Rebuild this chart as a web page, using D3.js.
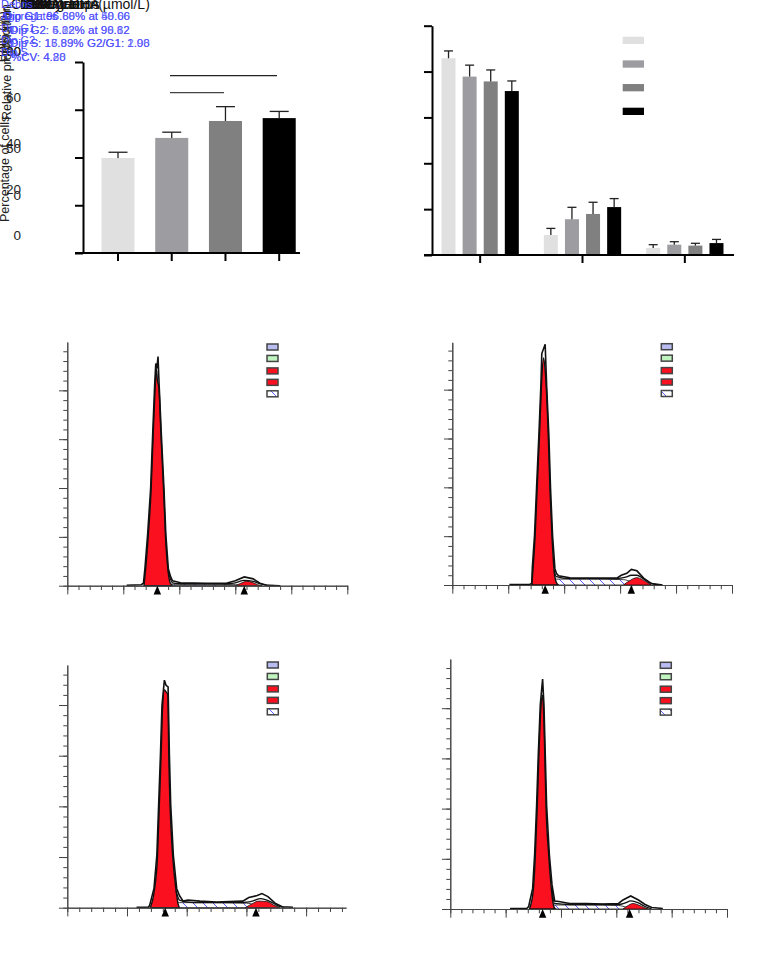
<!DOCTYPE html>
<html>
<head>
<meta charset="utf-8">
<script src="https://cdn.jsdelivr.net/npm/d3@7"></script>
<style>
  body { margin: 0; background: #fff; }
  svg { display: block; }
  text { font-family: "Liberation Sans", Arial, sans-serif; }
</style>
</head>
<body>
<div id="chart"></div>
<script>
// bar charts
const doses = ["0", "50", "100", "200"];
const prolif_mean = [39.8, 48.2, 55.3, 56.5];
const prolif_upper = [42.2, 50.6, 61.3, 59.3];
const prolif_ticks = [0, 20, 40, 60, 80];

const phases = ["G0/G1", "S", "G2/M"];
const phase_mean = [
  [85.8, 77.8, 75.7, 71.5],
  [8.7, 15.6, 17.9, 20.9],
  [3.1, 4.5, 4.1, 5.2]
];
const phase_upper = [
  [89, 82.8, 80.7, 75.9],
  [11.6, 20.8, 23, 24.6],
  [4.5, 5.8, 5.1, 6.8]
];
const phase_ticks = [0, 20, 40, 60, 80, 100];
const bar_colors = ["#e0e0e0", "#9d9da1", "#808080", "#000000"];

// flow histograms, [channel, count]
const p1_total = [[53,1],[66,2],[68,5],[69.3,35],[71.7,104],[74.4,199],[76.2,308],[78,411],[79,455],[80,445],[81,469],[82,411],[84,308],[86.3,199],[88,104],[90.2,35],[92.3,18],[94,10],[101,6],[124,5],[142,5],[150,10],[158,18],[166,14],[172,5],[178,1],[190,0]];
const p1_fit = [[90,30],[94,6],[101,4],[124,4],[142,4],[150,6],[158,11],[166,9],[172,4],[178,1],[186,0]];
const p1_g1 = [[68.5,0],[69.8,30],[72.2,100],[74.8,195],[76.6,305],[78.4,405],[79.5,445],[80.5,420],[81.8,405],[83.7,305],[86,195],[87.7,100],[90,30],[92,5],[94,0]];
const p1_g2 = [[150,0],[155,5],[160,9],[165,7],[170,2],[174,0]];
const p1_s = [[78,0],[85,3],[92,3],[124,3],[150,2],[160,0]];
const p1_peaks = [80.4, 158];

const p2_total = [[51,1],[69,1],[71,3],[71.5,34],[73.5,102],[75.3,198],[77.4,307],[79.2,410],[80,474],[83,493],[84.3,410],[86.3,307],[87.8,198],[89.6,102],[91.7,34],[93,24],[95,19],[105,15],[120,14],[147,14],[151,20],[156,24],[160,32],[165,29],[171,14],[178,3],[188,0]];
const p2_fit = [[91,30],[93,17],[105,13],[120,13],[147,13],[155,16],[160,20],[165,20],[170,14],[176,5],[185,0]];
const p2_g1 = [[71,0],[72.2,34],[74,100],[75.8,195],[77.9,305],[79.6,405],[81.5,465],[83,440],[84,405],[85.8,305],[87.3,195],[89.1,100],[91,30],[93,5],[95,0]];
const p2_g2 = [[153,0],[158,8],[165,15],[170,11],[175,4],[178,0]];
const p2_s = [[78,0],[85,7],[93,12],[120,12],[153,11],[160,6],[165,0]];
const p2_peaks = [83, 160];

const p3_total = [[58,1],[68,1],[69,5],[72.6,38],[75,104],[76.5,203],[78,301],[79.3,400],[81.3,449],[82.7,439],[84.4,436],[85.5,301],[86.6,203],[88.8,104],[91.6,38],[93.9,24],[97,13],[101,15],[111,13],[125,11],[147,13],[152,20],[159,24],[163,28],[168,22],[174,9],[180,2],[189,1]];
const p3_fit = [[91,34],[94,15],[101,11],[111,10],[125,10],[147,10],[155,13],[162,18],[170,12],[176,4],[182,0]];
const p3_g1 = [[69.5,0],[73,36],[75.5,100],[77,200],[78.5,298],[79.8,395],[81.3,430],[83,425],[84.2,420],[85,298],[86.1,200],[88.3,100],[91,36],[93,5],[94,0]];
const p3_g2 = [[149,0],[155,8],[160,13],[167,12],[173,5],[178,0]];
const p3_s = [[79,0],[87,8],[94,10],[120,10],[150,9],[158,5],[167,0]];
const p3_peaks = [82, 158];

const p4_total = [[54,1],[69,1],[70.8,5],[74.4,41],[76.2,108],[78,207],[79.5,307],[81.3,407],[83.4,458],[84.6,407],[85.8,307],[87,207],[89.5,108],[91.9,48],[94.3,16],[98,15],[108,11],[123,11],[138,10],[152,11],[156,18],[163,26],[170,18],[176,9],[182,3],[192,1]];
const p4_fit = [[92,40],[94,11],[108,9],[123,9],[138,9],[152,9],[158,12],[163,16],[170,12],[176,5],[182,0]];
const p4_g1 = [[71.5,0],[75,38],[76.8,105],[78.6,205],[80,305],[81.8,400],[83.4,426],[84.2,400],[85.4,305],[86.5,205],[89,105],[91.3,40],[93.5,5],[95,0]];
const p4_g2 = [[156,0],[160,6],[165,11],[170,8],[175,3],[179,0]];
const p4_s = [[81,0],[88,6],[95,8],[123,8],[152,7],[160,3],[168,0]];
const p4_peaks = [83.4, 162];

const flow_legend = ["Debris", "Aggregates", "Dip G1", "Dip G2", "Dip S"];
const flow_fills = ["#b8bcf0", "#c0f5c0", "#fb1020", "#fb1020", "url(#hatch)"];
const dip_g1 = ["Dip G1: 96.66% at 50.66", "Dip G1: 95.88% at 48.06", "Dip G1: 96.60% at 50.00", "Dip G1: 96.89% at 49.66"];
const dip_g2 = ["Dip G2: 4.22% at 90.82", "Dip G2: 5.02% at 96.82", "Dip G2: 6.88% at 98.12", "Dip G2: 5.12% at 99.62"];
const dip_s = ["Dip S: 16.89%", "Dip S: 17.83%", "Dip S: 18.89%", "Dip S: 15.99%"];
const ratio = ["G2/G1: 2.00", "G2/G1: 1.98", "G2/G1: 2.03", "G2/G1: 1.96"];
const cv = ["%CV: 4.20", "%CV: 4.80", "%CV: 4.28", "%CV: 4.88"];
const blue = "#4848ff";

const svg = d3.select("#chart").append("svg").attr("width", 757).attr("height", 970);

const hatch = svg.append("defs").append("pattern")
  .attr("id", "hatch")
  .attr("patternUnits", "userSpaceOnUse")
  .attr("width", 10)
  .attr("height", 10);
hatch.append("rect").attr("width", 10).attr("height", 10).attr("fill", "#fff");
hatch.append("path").attr("d", "M0,0L10,10").attr("stroke", blue).attr("stroke-width", 0.9);

function draw_bars(g, x, y, vals, upper, cap)
{
  g.selectAll("rect.bar")
    .data(vals)
    .join("rect")
      .attr("class", "bar")
      .attr("x", (d, i) => x(doses[i]))
      .attr("width", x.bandwidth())
      .attr("y", d => y(d))
      .attr("height", d => y(0) - y(d))
      .attr("fill", (d, i) => bar_colors[i]);

  let mid = i => x(doses[i]) + x.bandwidth() / 2;
  g.selectAll("line.err")
    .data(upper)
    .join("line")
      .attr("class", "err")
      .attr("x1", (d, i) => mid(i))
      .attr("x2", (d, i) => mid(i))
      .attr("y1", (d, i) => y(vals[i]))
      .attr("y2", d => y(d))
      .attr("stroke", "#222")
      .attr("stroke-width", 1.3);
  g.selectAll("line.cap")
    .data(upper)
    .join("line")
      .attr("class", "cap")
      .attr("x1", (d, i) => mid(i) - cap / 2)
      .attr("x2", (d, i) => mid(i) + cap / 2)
      .attr("y1", d => y(d))
      .attr("y2", d => y(d))
      .attr("stroke", "#222")
      .attr("stroke-width", 1.3);
}

function bar_axes(x_scale, y_scale, ticks, x_left, x_right)
{
  let y_axis = svg.append("g")
    .attr("transform", `translate(${x_left}, 0)`)
    .call(d3.axisLeft(y_scale).tickValues(ticks).tickSize(8).tickSizeOuter(0).tickFormat(""));
  y_axis.selectAll("path, line").attr("stroke", "#000").attr("stroke-width", 2);

  let x_axis = svg.append("g")
    .attr("transform", `translate(0, ${y_scale(0)})`)
    .call(d3.axisBottom(x_scale).tickSize(8).tickSizeOuter(0).tickFormat(""));
  x_axis.select("path").remove();
  x_axis.selectAll("line").attr("stroke", "#000").attr("stroke-width", 2);
  x_axis.append("line")
    .attr("x1", x_left - 8)
    .attr("x2", x_right)
    .attr("stroke", "#000")
    .attr("stroke-width", 2);
}

// proliferation chart
const prolif_x = d3.scaleBand().domain(doses).range([91.8, 305.4]).paddingInner(0.385).paddingOuter(0.18);
const prolif_y = d3.scaleLinear().domain([0, 80]).range([253, 62]);
draw_bars(svg.append("g"), prolif_x, prolif_y, prolif_mean, prolif_upper, 19);
bar_axes(prolif_x, prolif_y, prolif_ticks, 83, 300);

svg.append("line").attr("x1", 170).attr("x2", 277).attr("y1", 75.7).attr("y2", 75.7)
  .attr("stroke", "#222").attr("stroke-width", 1.2);
svg.append("line").attr("x1", 170).attr("x2", 224).attr("y1", 92.7).attr("y2", 92.7)
  .attr("stroke", "#444").attr("stroke-width", 1.2);

// cell cycle phase chart
const phase_x = d3.scaleBand().domain(phases).range([429, 736]);
const phase_y = d3.scaleLinear().domain([0, 100]).range([255, 25.7]);
phases.forEach((p, i) => {
  let inner = d3.scaleBand().domain(doses)
    .range([phase_x(p), phase_x(p) + phase_x.bandwidth()])
    .paddingInner(0.336)
    .paddingOuter(0.593);
  draw_bars(svg.append("g"), inner, phase_y, phase_mean[i], phase_upper[i], 9);
});
bar_axes(phase_x, phase_y, phase_ticks, 432, 734);

const swatch_y = d3.scalePoint().domain(doses).range([36.7, 107.7]);
svg.selectAll("rect.swatch")
  .data(doses)
  .join("rect")
    .attr("class", "swatch")
    .attr("x", 622.7)
    .attr("y", d => swatch_y(d))
    .attr("width", 21.3)
    .attr("height", 7.3)
    .attr("fill", (d, i) => bar_colors[i]);

function draw_flow(cfg, total, fit, g1, g2, s, peaks)
{
  const g = svg.append("g");
  let x = d3.scaleLinear().domain([0, cfg.x_max]).range([cfg.left, cfg.right]);
  let y = d3.scaleLinear().domain([0, cfg.y_max]).range([cfg.base, cfg.top]);

  let area = d3.area().x(d => x(d[0])).y0(y(0)).y1(d => y(d[1])).curve(d3.curveMonotoneX);
  let line = d3.line().x(d => x(d[0])).y(d => y(d[1]));

  g.append("path").attr("d", area(s)).attr("fill", "url(#hatch)").attr("stroke", "#111").attr("stroke-width", 0.8);
  g.append("path").attr("d", area(g1)).attr("fill", "#fb1020").attr("stroke", "#111").attr("stroke-width", 1.4);
  g.append("path").attr("d", area(g2)).attr("fill", "#fb1020").attr("stroke", "#111").attr("stroke-width", 0.8);
  g.append("path").attr("d", line.curve(d3.curveMonotoneX)(fit)).attr("fill", "none").attr("stroke", "#111").attr("stroke-width", 1.3);
  g.append("path").attr("d", line.curve(d3.curveLinear)(total)).attr("fill", "none").attr("stroke", "#111").attr("stroke-width", 1.6);

  let x_ticks = d3.range(0, cfg.x_max + 0.1, 10);
  let y_ticks = d3.range(0, cfg.y_max, 20);

  let minor_x = g.append("g").attr("transform", `translate(0, ${cfg.base})`)
    .call(d3.axisBottom(x).tickValues(x_ticks).tickSize(4.3).tickSizeOuter(0).tickFormat(""));
  let major_x = g.append("g").attr("transform", `translate(0, ${cfg.base})`)
    .call(d3.axisBottom(x).tickValues(x_ticks.filter(d => d % 50 == 0)).tickSize(8.7).tickSizeOuter(0).tickFormat(""));
  let minor_y = g.append("g").attr("transform", `translate(${cfg.left}, 0)`)
    .call(d3.axisLeft(y).tickValues(y_ticks).tickSize(4).tickSizeOuter(0).tickFormat(""));
  let major_y = g.append("g").attr("transform", `translate(${cfg.left}, 0)`)
    .call(d3.axisLeft(y).tickValues(y_ticks.filter(d => d % 100 == 0)).tickSize(8.3).tickSizeOuter(0).tickFormat(""));
  [minor_x, major_x, minor_y, major_y].forEach(a => a.selectAll("path, line").attr("stroke", "#444").attr("stroke-width", 1));

  g.selectAll("path.peak")
    .data(peaks)
    .join("path")
      .attr("class", "peak")
      .attr("d", d3.symbol(d3.symbolTriangle, 24))
      .attr("transform", d => `translate(${x(d)}, ${cfg.base + 5.8}) scale(1, 1.35)`)
      .attr("fill", "#000");

  let legend_y = d3.scaleLinear().domain([0, 4]).range([cfg.legend_y, cfg.legend_y + 45.8]);
  g.selectAll("rect.key")
    .data(flow_legend)
    .join("rect")
      .attr("class", "key")
      .attr("x", cfg.legend_x)
      .attr("y", (d, i) => legend_y(i) + (i > 1 ? 1 : 0))
      .attr("width", 11)
      .attr("height", 6)
      .attr("fill", (d, i) => flow_fills[i])
      .attr("stroke", "#444")
      .attr("stroke-width", 1.5);
}

draw_flow({left: 67.3, right: 347.3, x_max: 250, base: 585.7, top: 342, y_max: 499, legend_x: 267, legend_y: 344}, p1_total, p1_fit, p1_g1, p1_g2, p1_s, p1_peaks);
draw_flow({left: 452.3, right: 732, x_max: 250, base: 585, top: 342.3, y_max: 497, legend_x: 661.3, legend_y: 343.7}, p2_total, p2_fit, p2_g1, p2_g2, p2_s, p2_peaks);
draw_flow({left: 67.3, right: 346, x_max: 233.4, base: 907.7, top: 665, y_max: 479, legend_x: 267.3, legend_y: 662}, p3_total, p3_fit, p3_g1, p3_g2, p3_s, p3_peaks);
draw_flow({left: 450.3, right: 727, x_max: 250, base: 909, top: 659, y_max: 498, legend_x: 660.3, legend_y: 662.3}, p4_total, p4_fit, p4_g1, p4_g2, p4_s, p4_peaks);

// axis titles and labels all collapsed into the top left corner
const pile = svg.append("g");

function stack_text(list, x, y, size, color, opacity = 1)
{
  pile.selectAll(null)
    .data(list)
    .join("text")
      .attr("x", x)
      .attr("y", y)
      .attr("font-size", size)
      .attr("fill", color)
      .attr("fill-opacity", opacity)
      .text(d => d);
}

stack_text(["Concentration(µmol/L)"], 11, 9, 14, "#111");
stack_text(["DHA", "Treatment", "Dose groups", "Cell cycle"], 20, 9, 14, "#111");
stack_text(["DHA"], 70, 9, 14, "#111");
stack_text(phases.concat(doses), 24, 9, 14, "#111");

const tick_pile = d3.scaleLinear().domain([0, 80]).range([235, 51]);
const tick_pile2 = d3.scaleLinear().domain([0, 50]).range([195, 148]);
[[tick_pile, prolif_ticks], [tick_pile2, [0, 50]]].forEach(([scale, ticks]) => {
  let a = pile.append("g").attr("transform", "translate(21, 0)")
    .call(d3.axisLeft(scale).tickValues(ticks).tickSize(0).tickPadding(0));
  a.select("path").remove();
  a.selectAll("text").attr("font-size", 13.5).attr("fill", "#222");
});
stack_text(["100"], -1.5, 56, 13.5, "#222");

const rotated_titles = ["Percentage of cells", "Relative proliferation", "Proportion", "Cells (%)"];
const title_base = [9, 11, 10, 6];
const title_start = [222, 120, 62, 62];
rotated_titles.forEach((t, i) => {
  pile.append("text")
    .attr("transform", `translate(${title_base[i]}, ${title_start[i]}) rotate(270)`)
    .attr("font-size", 12.5)
    .attr("fill", "#222")
    .text(t);
});

const stat_y = d3.scaleLinear().domain([0, 3]).range([20, 61]);
stack_text(dip_g1, 4, stat_y(0), 11.5, blue, 0.5);
stack_text(dip_g2, 10, stat_y(1), 11.5, blue, 0.5);
stack_text(dip_s, 10, stat_y(2), 11.5, blue, 0.5);
stack_text(ratio, 87, stat_y(2), 11.5, blue, 0.5);
stack_text(cv, 11, stat_y(3), 11.5, blue, 0.5);

const name_y = d3.scaleLinear().domain([0, 4]).range([8, 56]);
flow_legend.forEach((t, i) => stack_text([t], 1, name_y(i), 11, blue));
</script>
</body>
</html>
